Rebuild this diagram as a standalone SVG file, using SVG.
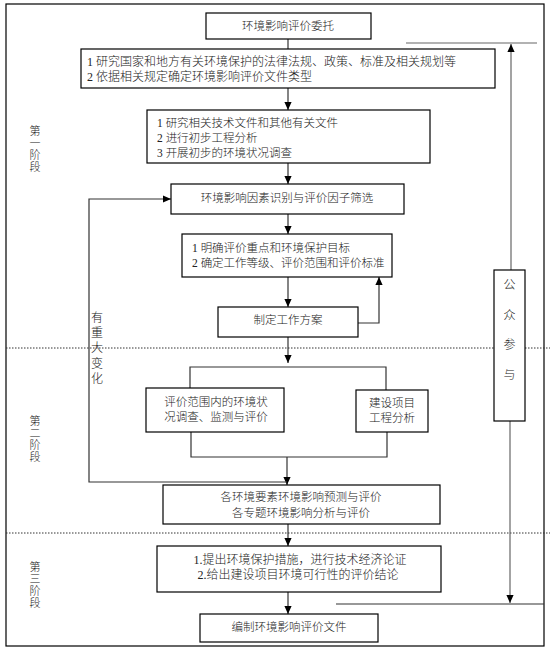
<svg xmlns="http://www.w3.org/2000/svg" width="550" height="654" viewBox="0 0 550 654">
<defs>
<marker id="ah" viewBox="0 0 10 10" refX="10" refY="5" markerWidth="8" markerHeight="8" markerUnits="userSpaceOnUse" orient="auto"><path d="M0,0.5 L10,5 L0,9.5 z" fill="#000"/></marker>
</defs>
<style>
.box{fill:#fff;stroke:#000;stroke-width:1.2}
.ln{fill:none;stroke:#333;stroke-width:1.2}
.gl{fill:none;stroke:#666;stroke-width:1.2}
.dot{fill:none;stroke:#333;stroke-width:1;stroke-dasharray:1.5,1.5}
text{font-family:"Liberation Serif","Noto Sans CJK SC",serif;font-size:11.5px;font-weight:300;fill:#222}
.c{text-anchor:middle}
.v{text-anchor:middle;font-size:11px}
</style>
<rect x="0" y="0" width="550" height="654" fill="#fff"/>
<rect x="6" y="4" width="538" height="642" fill="none" stroke="#000" stroke-width="1.2"/>
<line class="dot" x1="6" y1="348" x2="550" y2="348"/>
<line class="dot" x1="6" y1="533" x2="550" y2="533"/>

<g id="connectors">
<path class="ln" d="M288,39 V49"/>
<path class="ln" d="M288,88 V110" marker-end="url(#ah)"/>
<path class="ln" d="M288,163 V184" marker-end="url(#ah)"/>
<path class="ln" d="M288,214 V234" marker-end="url(#ah)"/>
<path class="ln" d="M288,277 V307" marker-end="url(#ah)"/>
<path class="ln" d="M358,323 H379 V277" marker-end="url(#ah)"/>
<path class="ln" d="M288,337 V363" marker-end="url(#ah)"/>
<path class="ln" d="M190,388 V367 H386 V390"/>
<path class="ln" d="M191,432 V457 H387 V432"/>
<path class="ln" d="M287,457 V485" marker-end="url(#ah)"/>
<path class="ln" d="M287,482 H89 V199 H171" marker-end="url(#ah)"/>
<path class="ln" d="M288,524 V546" marker-end="url(#ah)"/>
<path class="ln" d="M288,592 V614" marker-end="url(#ah)"/>
<path class="gl" d="M406,43 H537"/>
<path class="gl" d="M511,270 V44" marker-end="url(#ah)"/>
<path class="gl" d="M510,421 V603" marker-end="url(#ah)"/>
<path class="ln" d="M336,604 H544"/>
</g>

<g id="n1">
<rect class="box" x="206" y="13" width="165" height="26"/>
<text class="c" x="288" y="30">环境影响评价委托</text>
</g>
<g id="n2">
<rect class="box" x="81" y="49" width="414" height="39"/>
<text x="87" y="66" style="font-size:12px">1 研究国家和地方有关环境保护的法律法规、政策、标准及相关规划等</text>
<text x="87" y="81" style="font-size:12px">2 依据相关规定确定环境影响评价文件类型</text>
</g>
<g id="n3">
<rect class="box" x="147" y="110" width="283" height="53"/>
<text x="157" y="127">1 研究相关技术文件和其他有关文件</text>
<text x="157" y="142">2 进行初步工程分析</text>
<text x="157" y="157">3 开展初步的环境状况调查</text>
</g>
<g id="n4">
<rect class="box" x="171" y="184" width="233" height="30"/>
<text class="c" x="287" y="202">环境影响因素识别与评价因子筛选</text>
</g>
<g id="n5">
<rect class="box" x="182" y="234" width="210" height="43"/>
<text x="192" y="252">1 明确评价重点和环境保护目标</text>
<text x="192" y="267">2 确定工作等级、评价范围和评价标准</text>
</g>
<g id="n6">
<rect class="box" x="218" y="307" width="140" height="30"/>
<text class="c" x="288" y="324">制定工作方案</text>
</g>
<g id="n7">
<rect class="box" x="146" y="388" width="138" height="44"/>
<text class="c" x="216" y="406">评价范围内的环境状</text>
<text class="c" x="216" y="421">况调查、监测与评价</text>
</g>
<g id="n8">
<rect class="box" x="356" y="390" width="72" height="42"/>
<text class="c" x="392" y="407">建设项目</text>
<text class="c" x="392" y="422">工程分析</text>
</g>
<g id="n9">
<rect class="box" x="163" y="485" width="277" height="39"/>
<text class="c" x="301" y="501">各环境要素环境影响预测与评价</text>
<text class="c" x="301" y="517">各专题环境影响分析与评价</text>
</g>
<g id="n10">
<rect class="box" x="157" y="546" width="284" height="46"/>
<text class="c" x="300" y="564" style="font-size:12px">1.提出环境保护措施，进行技术经济论证</text>
<text class="c" x="298" y="579" style="font-size:12px">2.给出建设项目环境可行性的评价结论</text>
</g>
<g id="n11">
<rect class="box" x="200" y="614" width="178" height="28"/>
<text class="c" x="289" y="631">编制环境影响评价文件</text>
</g>
<g id="public">
<rect class="box" x="494" y="270" width="31" height="151"/>
<text class="v" x="509.5" y="289" style="font-size:12px">公</text>
<text class="v" x="509.5" y="320" style="font-size:12px">众</text>
<text class="v" x="509.5" y="349" style="font-size:12px">参</text>
<text class="v" x="509.5" y="379" style="font-size:12px">与</text>
</g>
<g id="change-label">
<text class="v" x="97" y="322" style="font-size:12px">有</text>
<text class="v" x="97" y="337" style="font-size:12px">重</text>
<text class="v" x="97" y="352" style="font-size:12px">大</text>
<text class="v" x="97" y="368" style="font-size:12px">变</text>
<text class="v" x="97" y="383" style="font-size:12px">化</text>
</g>
<g id="stage1">
<text class="v" x="35" y="135">第</text>
<text class="v" x="35" y="147">一</text>
<text class="v" x="35" y="159">阶</text>
<text class="v" x="35" y="171">段</text>
</g>
<g id="stage2">
<text class="v" x="35" y="425">第</text>
<text class="v" x="35" y="437">二</text>
<text class="v" x="35" y="449">阶</text>
<text class="v" x="35" y="461">段</text>
</g>
<g id="stage3">
<text class="v" x="35" y="571">第</text>
<text class="v" x="35" y="583">三</text>
<text class="v" x="35" y="595">阶</text>
<text class="v" x="35" y="607">段</text>
</g>
</svg>
